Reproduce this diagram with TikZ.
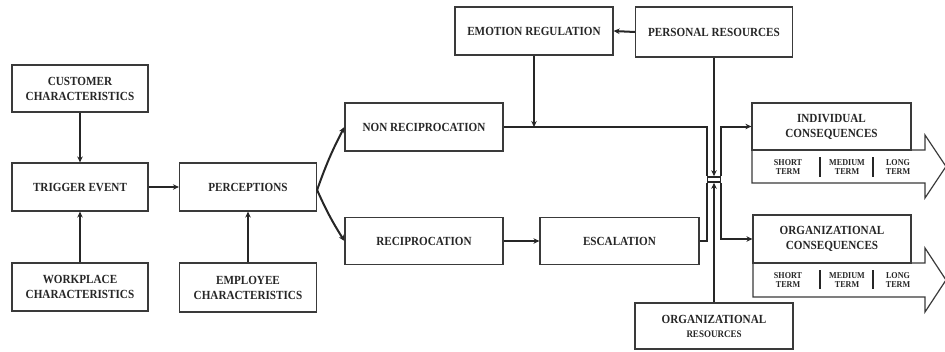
\documentclass[tikz,border=0pt]{standalone}
\usepackage{fontspec}
\setmainfont{Liberation Serif}[FakeStretch=0.9]
\usetikzlibrary{arrows.meta}
\definecolor{ink}{HTML}{262626}
\definecolor{edge}{HTML}{3A3A3A}
\begin{document}
\begin{tikzpicture}[x=1pt,y=-1pt,
  box/.style={draw=edge,line width=1.2pt,fill=white,align=center,inner sep=0pt,
    text=ink,font=\fontsize{12.4}{15}\selectfont\bfseries},
  link/.style={draw=ink,line width=2pt},
  arr/.style={link,-{Stealth[length=6pt,width=5.5pt]}},
  termtxt/.style={align=center,inner sep=0pt,text=ink,
    font=\fontsize{9}{9.5}\selectfont\bfseries},
  bar/.style={draw=ink,line width=2pt},
  bigarrow/.style={draw=edge,line width=1.2pt,fill=white,line join=miter}]
\useasboundingbox (0,0) rectangle (945,351);

% left column
\node[box,minimum width=136,minimum height=47] (cust) at (80,88.5) {CUSTOMER\\CHARACTERISTICS};
\node[box,minimum width=136,minimum height=48] (trig) at (80,187) {TRIGGER EVENT};
\node[box,minimum width=136,minimum height=48] (work) at (80,287) {WORKPLACE\\CHARACTERISTICS};
\node[box,minimum width=137,minimum height=48] (perc) at (248,187) {PERCEPTIONS};
\node[box,minimum width=137,minimum height=49] (empl) at (248,287.5) {EMPLOYEE\\CHARACTERISTICS};

% middle
\node[box,minimum width=158,minimum height=48] (emo) at (534,31) {EMOTION REGULATION};
\node[box,minimum width=158,minimum height=48] (nonr) at (424,127) {NON RECIPROCATION};
\node[box,minimum width=158,minimum height=47] (recip) at (424,241) {RECIPROCATION};
\node[box,minimum width=159,minimum height=47] (esc) at (619.5,241) {ESCALATION};
\node[box,minimum width=157,minimum height=50] (pers) at (714,32) {PERSONAL RESOURCES};
\node[box,minimum width=158,minimum height=46,font=\fontsize{12.4}{14}\selectfont\bfseries] (orgres) at (714,326) {ORGANIZATIONAL\\{\fontsize{10}{11}\selectfont RESOURCES}};

% junction where the resources meet the two paths
\node[draw=ink,line width=1.6pt,minimum width=13,minimum height=5,inner sep=0pt] (junc) at (714,179.5) {};

% consequence arrows with time horizons
\draw[bigarrow] (752,150) -- (925,150) -- (925,135) -- (946,166.5) -- (925,198) -- (925,183) -- (752,183) -- cycle;
\node[box,minimum width=159,minimum height=47] (indiv) at (831.5,126.5) {INDIVIDUAL\\CONSEQUENCES};
\node[termtxt] (i1) at (788,167) {SHORT\\TERM};
\node[termtxt] (i2) at (847,167) {MEDIUM\\TERM};
\node[termtxt] (i3) at (898,167) {LONG\\TERM};
\draw[bar] (820,157) -- (820,177);
\draw[bar] (873,157) -- (873,177);

\draw[bigarrow] (753,263) -- (925,263) -- (925,248) -- (946,280) -- (925,312) -- (925,297) -- (753,297) -- cycle;
\node[box,minimum width=158,minimum height=48] (orgc) at (832,239) {ORGANIZATIONAL\\CONSEQUENCES};
\node[termtxt] (o1) at (788,280) {SHORT\\TERM};
\node[termtxt] (o2) at (847,280) {MEDIUM\\TERM};
\node[termtxt] (o3) at (898,280) {LONG\\TERM};
\draw[bar] (820,270) -- (820,289);
\draw[bar] (873,270) -- (873,289);

% connectors
\draw[arr] (cust.south) -- (cust.south |- trig.north);
\draw[arr] (work.north) -- (work.north |- trig.south);
\draw[arr] (trig.east) -- (perc.west);
\draw[arr] (empl.north) -- (perc.south);
\draw[arr] ([yshift=-3]perc.east) to[bend left=4] (nonr.west);
\draw[arr] ([yshift=-3]perc.east) to[bend right=4] (recip.west);
\draw[arr] (recip.east) -- (esc.west);
\draw[arr] (pers.west) -- (emo.east);
\draw[arr] (emo.south) -- (emo.south |- nonr.east);
\draw[link] (nonr.east) -| (junc.north west);
\draw[link] (esc.east) -| (junc.south west);
\draw[arr] (pers.south) -- (pers.south |- junc.north);
\draw[arr] (orgres.north) -- (orgres.north |- junc.south);
\draw[arr] (junc.north east) |- (indiv.west);
\draw[arr] (junc.south east) |- (orgc.west);
\end{tikzpicture}
\end{document}
